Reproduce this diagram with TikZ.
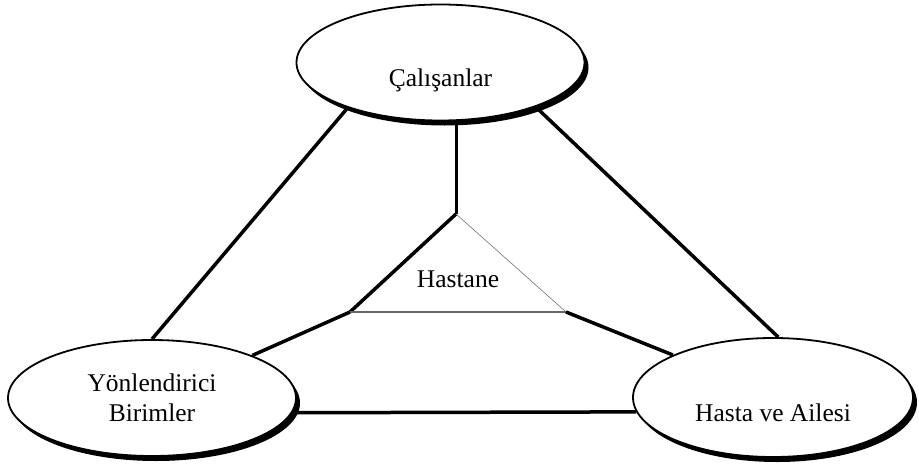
\documentclass[tikz,border=0pt]{standalone}
\usepackage{fontspec}
\setmainfont{Liberation Serif}
\usetikzlibrary{shapes.geometric,shadows}

\tikzset{
  party/.style={ellipse, draw, line width=1.8pt, fill=white, inner sep=0pt,
    minimum width=288pt, minimum height=116pt, align=center,
    drop shadow={shadow xshift=4pt, shadow yshift=-5pt, fill=black, opacity=1},
    font=\fontsize{25.5}{30}\selectfont},
  lowtext/.style={text height=47pt, text depth=0pt},
  link/.style={line width=3.5pt},
}

\begin{document}
\begin{tikzpicture}[x=1pt, y=-1pt]
\useasboundingbox (0,0) rectangle (919,466);

\node[party, lowtext] (work) at (440.5,62.5) {Çalışanlar};
\node[party] (guide) at (152,398) {Yönlendirici\\Birimler};
\node[party, lowtext, minimum width=280pt, minimum height=119pt] (family) at (773,397.5) {Hasta ve Ailesi};

% hospital in the middle
\coordinate (apex) at (456,214);
\coordinate (bl) at (350,312);
\coordinate (br) at (566,312);
\node[font=\fontsize{25.5}{30}\selectfont, anchor=base] (hosp) at (458,287) {Hastane};

\draw[link] (bl) -- (apex);
\draw[line width=0.6pt, black!55] (apex) -- (br);
\draw[line width=2.2pt, black!60] (bl) -- (br);

\draw[line width=3pt] (apex) -- (apex |- work.south);
\draw[link] (bl) -- (guide.23);
\draw[link] (br) -- (family.157);

% outer ring
\draw[link] (work.206) -- (guide.north);
\draw[link] (work.335) -- (family.85);
\draw[link] (guide.354) -- (family.186);
\end{tikzpicture}
\end{document}
